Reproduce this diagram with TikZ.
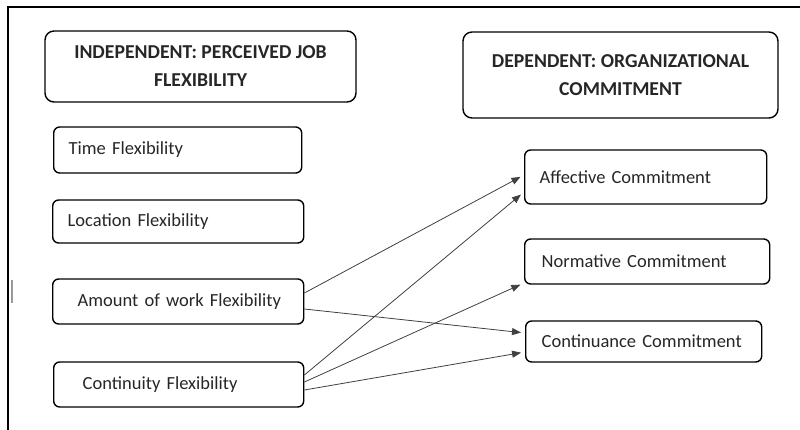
\documentclass[tikz,border=0pt]{standalone}
\usepackage{fontspec}
\setmainfont{Carlito}
\usetikzlibrary{arrows.meta}

\begin{document}
\begin{tikzpicture}[x=1pt, y=-1pt,
    every node/.style={font=\fontsize{18.5}{27}\selectfont, text=black!85},
    header/.style={draw, rounded corners=9pt, line width=1.4pt, align=center, font=\fontsize{19.7}{28}\selectfont\bfseries, inner sep=0pt},
    factor/.style={draw, rounded corners=6pt, line width=1.4pt, anchor=west, align=left, inner sep=0pt},
    arr/.style={-{Triangle[length=9pt, width=7pt]}, line width=0.8pt, black!75, shorten >=4pt}]
    \useasboundingbox (0,0) rectangle (800,430);

    % Draw the frame
    \draw[line width=2pt] (8,430) -- (8,7) -- (800,7);
    \draw[black!40, line width=1.2pt] (12,280) -- (12,303);

    % Headers
    \node[header, minimum width=311pt, minimum height=71pt] (indep) at (200.5,66.5) {INDEPENDENT: PERCEIVED JOB\\FLEXIBILITY};
    \node[header, minimum width=315pt, minimum height=86pt] (dep) at (620.5,75) {DEPENDENT: ORGANIZATIONAL\\COMMITMENT};

    % Independent factors
    \node[factor, minimum height=46pt, text width=248pt] (time) at (53,150) {\hspace*{15pt}Time Flexibility};
    \node[factor, minimum height=43pt, text width=251pt] (location) at (52,221.5) {\hspace*{15pt}Location Flexibility};
    \node[factor, minimum height=45pt, text width=251pt] (amount) at (52,301.5) {\hspace*{25pt}Amount of work Flexibility};
    \node[factor, minimum height=45pt, text width=250pt] (continuity) at (53,384.5) {\hspace*{29pt}Continuity Flexibility};

    % Dependent factors
    \node[factor, minimum height=54pt, text width=242pt] (affective) at (524,177) {\hspace*{15pt}Affective Commitment};
    \node[factor, minimum height=45pt, text width=245pt] (normative) at (524,261.5) {\hspace*{17pt}Normative Commitment};
    \node[factor, minimum height=41pt, text width=236pt] (continuance) at (525,341.5) {\hspace*{16pt}Continuance Commitment};

    % Arrows
    \draw[arr] ([yshift=8.5pt]amount.east) -- ([yshift=2pt]affective.west);
    \draw[arr] ([yshift=-7.5pt]amount.east) -- ([yshift=8.5pt]continuance.west);
    \draw[arr] ([yshift=9.5pt]continuity.east) -- ([yshift=-15pt]affective.west);
    \draw[arr] ([yshift=2.5pt]continuity.east) -- ([yshift=-21.5pt]normative.west);
    \draw[arr] ([yshift=-5.5pt]continuity.east) -- ([yshift=-10.5pt]continuance.west);
\end{tikzpicture}
\end{document}
